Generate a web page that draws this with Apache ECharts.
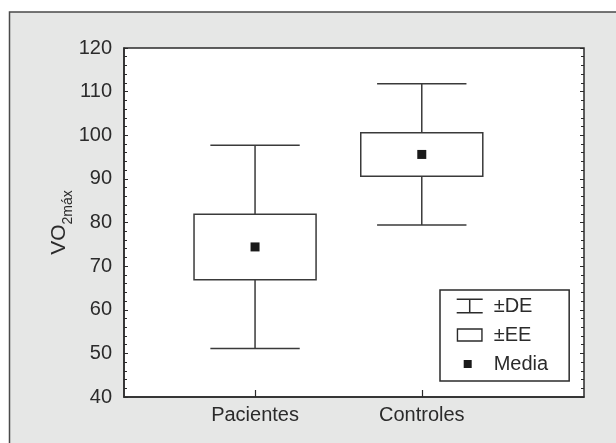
<!DOCTYPE html>
<html>
<head>
<meta charset="utf-8">
<script src="https://cdn.jsdelivr.net/npm/echarts@6/dist/echarts.min.js"></script>
<style>
  html, body { margin: 0; padding: 0; background: #fff; }
  #chart { width: 616px; height: 443px; }
</style>
</head>
<body>
<div id="chart"></div>
<script>
// valores
var categories = ['Pacientes', 'Controles'];
var means = [74.4, 95.6];      // media
var se = [7.5, 5.0];           // ±EE (caja)
var sd = [23.3, 16.2];         // ±DE (bigotes)
var yTicks = [40, 50, 60, 70, 80, 90, 100, 110, 120];

var ink = '#2b2b2b';
var font = 'Liberation Sans, Arial, sans-serif';

var chart = echarts.init(document.getElementById('chart'));

var pos = categories.map(function (c, i) { return i + 1; });

var sdData = pos.map(function (x, i) { return [x, means[i], sd[i]]; });
var seData = pos.map(function (x, i) { return [x, means[i], se[i]]; });
var meanData = pos.map(function (x, i) { return [x, means[i]]; });

function renderWhisker(params, api) {
    var x = api.value(0), m = api.value(1), d = api.value(2);
    var top = api.coord([x, m + d]);
    var bot = api.coord([x, m - d]);
    var hw = api.size([1, 0])[0] * 0.268;
    var st = { stroke: '#3a3a3a', lineWidth: 1.5 };
    return {
        type: 'group',
        children: [
            { type: 'line', shape: { x1: top[0], y1: top[1], x2: bot[0], y2: bot[1] }, style: st },
            { type: 'line', shape: { x1: top[0] - hw, y1: top[1], x2: top[0] + hw, y2: top[1] }, style: st },
            { type: 'line', shape: { x1: bot[0] - hw, y1: bot[1], x2: bot[0] + hw, y2: bot[1] }, style: st }
        ]
    };
}

function renderBox(params, api) {
    var x = api.value(0), m = api.value(1), e = api.value(2);
    var top = api.coord([x, m + e]);
    var bot = api.coord([x, m - e]);
    var hw = api.size([1, 0])[0] * 0.366;
    return {
        type: 'rect',
        shape: { x: top[0] - hw, y: top[1], width: hw * 2, height: bot[1] - top[1] },
        style: { fill: '#fff', stroke: '#3a3a3a', lineWidth: 1.5 }
    };
}

var option = {
    backgroundColor: '#fff',
    animation: false,
    textStyle: { fontFamily: font },
    graphic: [{
        type: 'rect',
        z: -10,
        shape: { x: 9.5, y: 12, width: 700, height: 500 },
        style: { fill: '#e6e7e6', stroke: '#4a4a4a', lineWidth: 1.5 }
    }],
    grid: {
        left: 124, right: 32, top: 48, bottom: 46,
        show: true, backgroundColor: '#fff',
        borderColor: ink, borderWidth: 1.5
    },
    legend: {
        orient: 'vertical',
        left: 440, top: 290,
        padding: [6, 21, 7, 16],
        itemGap: 9,
        itemWidth: 26, itemHeight: 15,
        backgroundColor: '#fff',
        borderColor: ink, borderWidth: 1.5,
        selectedMode: false,
        textStyle: { fontSize: 20, color: ink, fontFamily: font, lineHeight: 20, padding: [0, 0, 0, 6] },
        data: [
            { name: '±DE', icon: 'path://M0,0h26v1.5h-12.25v12h12.25v1.5h-26v-1.5h12.25v-12h-12.25z',
              itemStyle: { color: ink, borderWidth: 0 } },
            { name: '±EE', icon: 'path://M0,0M26,15M0.75,1.5h24.5v12h-24.5z',
              itemStyle: { color: '#fff', borderColor: ink, borderWidth: 1.4 } },
            { name: 'Media', icon: 'path://M0,0M26,15M7,3.5h8v8h-8z',
              itemStyle: { color: '#1a1a1a', borderWidth: 0, opacity: 1 } }
        ]
    },
    xAxis: {
        type: 'value',
        min: 0.214, max: 2.973,
        axisLine: { show: true, lineStyle: { color: ink, width: 1.5 } },
        axisTick: { show: true, inside: true, length: 7, customValues: pos,
                    lineStyle: { color: ink, width: 1.2 } },
        axisLabel: { customValues: pos, margin: 8, fontSize: 20, color: ink,
                     formatter: function (v) { return categories[Math.round(v) - 1] || ''; } },
        splitLine: { show: false }
    },
    yAxis: [{
        type: 'value',
        min: yTicks[0], max: yTicks[yTicks.length - 1], interval: 10,
        name: '{m|VO}{s|2máx}',
        nameLocation: 'middle',
        nameRotate: 90,
        nameGap: 49,
        nameMoveOverlap: false,
        nameTextStyle: {
            rich: {
                m: { fontSize: 21, color: ink, fontFamily: font, verticalAlign: 'bottom', padding: [0, 0, 5, 0] },
                s: { fontSize: 14, color: ink, fontFamily: font, verticalAlign: 'bottom' }
            }
        },
        axisLine: { show: true, lineStyle: { color: ink, width: 1.5 } },
        axisTick: { show: true, inside: true, length: 4, lineStyle: { color: ink, width: 1 } },
        minorTick: { show: true, splitNumber: 5, length: 3, lineStyle: { color: ink, width: 1 } },
        axisLabel: { margin: 12, fontSize: 20, color: ink },
        splitLine: { show: false }
    }, {
        type: 'value',
        position: 'right',
        min: yTicks[0], max: yTicks[yTicks.length - 1], interval: 10,
        axisLine: { show: false },
        axisTick: { show: true, inside: true, length: 4, lineStyle: { color: ink, width: 1 } },
        minorTick: { show: true, splitNumber: 5, length: 3, lineStyle: { color: ink, width: 1 } },
        axisLabel: { show: false },
        splitLine: { show: false }
    }],
    series: [{
        name: '±DE',
        type: 'custom',
        renderItem: renderWhisker,
        data: sdData,
        encode: { x: 0, y: 1 },
        z: 2
    }, {
        name: '±EE',
        type: 'custom',
        renderItem: renderBox,
        data: seData,
        encode: { x: 0, y: 1 },
        z: 3
    }, {
        name: 'Media',
        type: 'scatter',
        symbol: 'rect',
        symbolSize: 9,
        itemStyle: { color: '#1a1a1a', opacity: 1 },
        data: meanData,
        z: 4
    }]
};

chart.setOption(option);
</script>
</body>
</html>
